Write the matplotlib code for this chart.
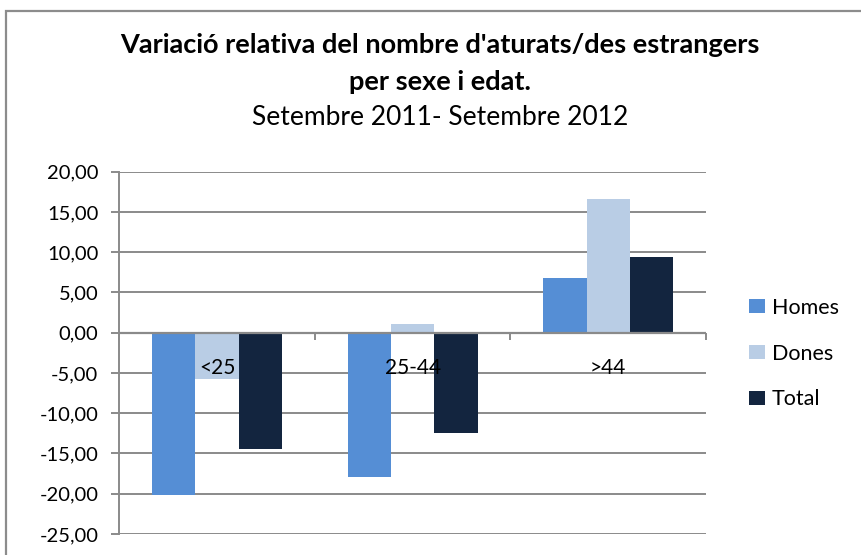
import matplotlib
matplotlib.use("Agg")
import matplotlib.pyplot as plt
import matplotlib.patches as mpatches
import numpy as np

categories = ["<25", "25-44", ">44"]
series_names = ["Homes", "Dones", "Total"]
homes = [-20.1, -17.9, 6.8]
dones = [-5.8, 1.1, 16.6]
total = [-14.4, -12.5, 9.4]
yticks = [20, 15, 10, 5, 0, -5, -10, -15, -20, -25]
ytick_labels = ["20,00", "15,00", "10,00", "5,00", "0,00", "-5,00", "-10,00", "-15,00", "-20,00", "-25,00"]
colors = ["#558ED5", "#B9CDE5", "#13253F"]

plt.rcParams['font.family'] = ['Lato', 'DejaVu Sans']
W, H = 862, 555
fig = plt.figure(figsize=(W / 100, H / 100), dpi=100)
fig.patch.set_facecolor("white")

# outer chart border
fig.add_artist(mpatches.Rectangle((6 / W, -0.1), 1.2, (H - 11) / H + 0.1,
                                  transform=fig.transFigure, fill=False,
                                  edgecolor="#8c8c8c", linewidth=1.6))

ax = fig.add_axes([119.3 / W, 21 / H, (706 - 119.3) / W, (534 - 171.7) / H])
gridc = "#8a8a8a"
x = np.arange(len(categories))
w = 0.222
for k, (vals, c) in enumerate(zip([homes, dones, total], colors)):
    ax.bar(x + (k - 1) * w, vals, width=w, color=c, label=series_names[k], zorder=3)

ax.set_xlim(-0.5, len(categories) - 0.5)
ax.set_ylim(-25, 20)
ax.set_yticks(yticks)
ax.set_yticklabels(ytick_labels, fontsize=14.5)
ax.yaxis.grid(True, color=gridc, linewidth=1.4, zorder=1)
ax.set_xticks([])
for s in ["top", "right", "bottom"]:
    ax.spines[s].set_visible(False)
ax.spines["left"].set_color(gridc)
ax.spines["left"].set_linewidth(1.4)
ax.tick_params(axis="y", length=6, color=gridc, width=1.4, pad=9)
ax.axhline(0, color=gridc, linewidth=1.6, zorder=4)
bounds = np.arange(len(categories) + 1) - 0.5
ax.vlines(bounds, 0, -0.9, color=gridc, linewidth=1.4, zorder=4, clip_on=False)
for i, cat in enumerate(categories):
    ax.text(i, -4.4, cat, ha="center", va="center", fontsize=15, zorder=5)

cx = 440 / W
fig.text(cx, 1 - 53 / H, "Variació relativa del nombre d'aturats/des estrangers",
         ha="center", va="baseline", fontsize=19.5, fontweight="bold")
fig.text(cx, 1 - 90 / H, "per sexe i edat.", ha="center", va="baseline",
         fontsize=19.5, fontweight="bold")
fig.text(cx, 1 - 125 / H, "Setembre 2011- Setembre 2012", ha="center", va="baseline",
         fontsize=19)

leg = fig.legend(loc="center left", bbox_to_anchor=(749 / W, 1 - 353.5 / H), frameon=False,
                 fontsize=15.5, handlelength=0.74, handleheight=0.65, handletextpad=0.33,
                 labelspacing=1.2, borderpad=0, borderaxespad=0)

fig.savefig("out.png", dpi=100)
